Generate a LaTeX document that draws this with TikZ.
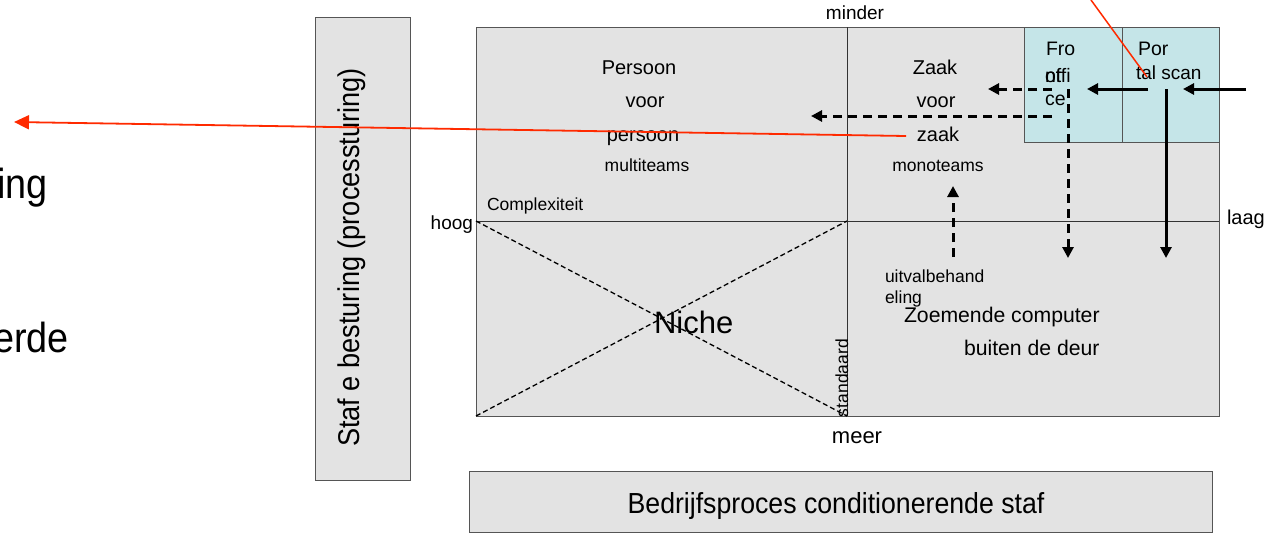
\documentclass[tikz,border=0pt]{standalone}
\usepackage{fontspec}
\setmainfont{Liberation Sans}
\usetikzlibrary{arrows.meta}
\definecolor{panelgrey}{HTML}{E3E3E3}
\definecolor{portalblue}{HTML}{C5E5E8}
\definecolor{edgegrey}{HTML}{555555}
\definecolor{linkred}{HTML}{FF2A00}
\newcommand\txtsize[1]{\fontsize{#1}{#1}\selectfont}
% narrow setting for the staff captions: size, horizontal factor, text
\newcommand\narrowtxt[3]{\scalebox{#2}[1]{\txtsize{#1}#3}}

\begin{document}
\begin{tikzpicture}[x=1pt,y=-1pt,
  lbl/.style={inner sep=0pt, outer sep=0pt, anchor=base},
  lblw/.style={lbl, anchor=base west},
  panel/.style={fill=panelgrey, draw=edgegrey, line width=1pt},
  portal/.style={fill=portalblue, draw=edgegrey, line width=1pt},
  divider/.style={draw=black!80, line width=1pt},
  flow/.style={line width=3pt, -{Triangle[length=11pt,width=11pt]}},
  flowdash/.style={flow, dash pattern=on 9pt off 6pt},
  diag/.style={line width=1.3pt, dash pattern=on 5pt off 3pt},
  redlink/.style={draw=linkred, line width=1.8pt}]
\useasboundingbox (0,0) rectangle (1268,533);

% fragments of the left-hand text block
\node[lbl, anchor=base east] (frag-ing) at (48,198) {\narrowtxt{42}{0.9}{ing}};
\node[lbl, anchor=base east] (frag-erde) at (69,352) {\narrowtxt{42}{0.9}{erde}};

% staff boxes
\draw[panel] (315,17) rectangle (410,480);
\node[lbl, rotate=90] (staf) at (359,257.5) {\narrowtxt{30}{0.905}{Staf e besturing (processturing)}};
\draw[panel] (469,471) rectangle (1212,532);
\node[lbl] (bedrijf) at (836,513) {\narrowtxt{29}{0.92}{Bedrijfsproces conditionerende staf}};

% quadrant field
\coordinate (q-tl) at (476,27);
\coordinate (q-br) at (1219,416);
\draw[panel] (q-tl) rectangle (q-br);
\draw[portal] (1024,27) rectangle (1122,142);
\draw[portal] (1122,27) rectangle (1219,142);
\coordinate (mid-top) at (847,27);
\coordinate (mid-bot) at (847,416);
\coordinate (hoog-pt) at (476,221);
\coordinate (laag-pt) at (1219,221);
\coordinate (niche-bl) at (476,416);
\draw[divider] (mid-top) -- (mid-bot);
\draw[divider] (hoog-pt) -- (laag-pt);
\coordinate (niche-tr) at (847,221);
\draw[diag] (hoog-pt) -- (mid-bot);
\draw[diag] (niche-bl) -- (niche-tr);

% axis labels
\node[lbl] (minder) at (855,19) {\txtsize{19}minder};
\node[lbl] (meer) at (857,443) {\txtsize{22}meer};
\node[lbl, anchor=base east] (hoog) at (473,229) {\txtsize{19}hoog};
\node[lblw] (laag) at (1227,224) {\txtsize{20}laag};
\node[lblw] (complex) at (487,210) {\txtsize{17.5}Complexiteit};
\node[lblw, rotate=90] (standaard) at (848,417) {\txtsize{17.5}standaard};

% quadrant texts
\node[lbl] (p1) at (639,74) {\txtsize{20}Persoon};
\node[lbl] (p2) at (645,107) {\txtsize{20}voor};
\node[lbl] (p3) at (643,141) {\txtsize{20}persoon};
\node[lbl] (p4) at (647,171) {\txtsize{17.5}multiteams};
\node[lbl] (z1) at (935,74) {\txtsize{20}Zaak};
\node[lbl] (z2) at (936,107) {\txtsize{20}voor};
\node[lbl] (z3) at (938,141) {\txtsize{20}zaak};
\node[lbl] (z4) at (938,171) {\txtsize{17.5}monoteams};
\node[lblw] (niche) at (654,333) {\txtsize{31}Niche};
\node[lblw] (uitval1) at (885,282) {\txtsize{17.5}uitvalbehand};
\node[lblw] (uitval2) at (885,303) {\txtsize{17.5}eling};
\node[lblw] (zoem1) at (904,322) {\txtsize{21.2}Zoemende computer};
\node[lblw] (zoem2) at (964,355) {\txtsize{21.2}buiten de deur};
\node[lblw] (fo1) at (1046,55) {\txtsize{19.5}Fro};
\node[lblw] (fo2) at (1045,82) {\txtsize{19.5}nt};
\node[lblw] (fo3) at (1045,82) {\txtsize{19.5}offi};
\node[lblw] (fo4) at (1045,105) {\txtsize{19.5}ce};
\node[lblw] (ps1) at (1138,55) {\txtsize{19.5}Por};
\node[lblw] (ps2) at (1136,79) {\txtsize{19}tal scan};

% process flow
\coordinate (in-r) at (1246,89);
\coordinate (in-tip) at (1183,89);
\coordinate (ps-out) at (1148,89);
\coordinate (fo-tip) at (1087,89);
\coordinate (ps-down) at (1166,89);
\coordinate (ps-down-tip) at (1166,258);
\coordinate (fo-down) at (1068,89);
\coordinate (fo-down-tip) at (1068,258);
\coordinate (fo-left1) at (1052,89);
\coordinate (fo-left1-tip) at (988,89);
\coordinate (fo-left2) at (1052,116);
\coordinate (fo-left2-tip) at (811,116);
\coordinate (uit-up) at (953,257);
\coordinate (uit-up-tip) at (953,186);
\draw[flow] (in-r) -- (in-tip);
\draw[flow] (ps-out) -- (fo-tip);
\draw[flow] (ps-down) -- (ps-down-tip);
\draw[flowdash] (fo-down) -- (fo-down-tip);
\draw[flowdash] (fo-left1) -- (fo-left1-tip);
\draw[flowdash] (fo-left2) -- (fo-left2-tip);
\draw[flowdash] (uit-up) -- (uit-up-tip);

% red pointers
\coordinate (red-from) at (906,136);
\coordinate (red-to) at (14,122);
\draw[redlink, -{Triangle[length=15pt,width=14pt]}] (red-from) -- (red-to);
\coordinate (red-top) at (1091,0);
\coordinate (red-end) at (1147,77);
\draw[redlink, line width=1.5pt] (red-top) -- (red-end);
\end{tikzpicture}
\end{document}
